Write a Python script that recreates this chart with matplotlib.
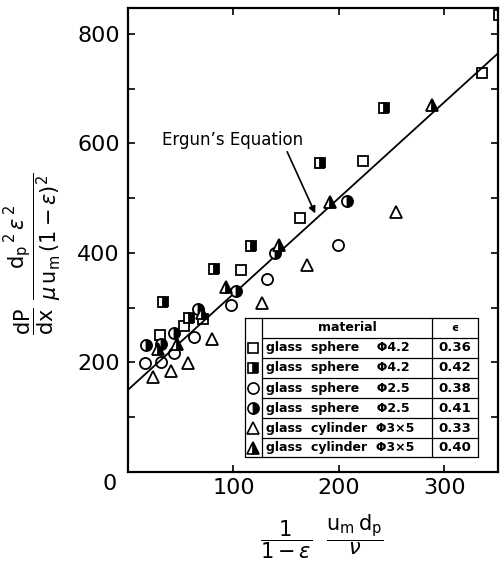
import matplotlib
matplotlib.use("Agg")
import matplotlib.pyplot as plt
import numpy as np

plt.rcParams['font.family'] = ['DejaVu Sans']
plt.rcParams['mathtext.fontset'] = 'dejavusans'

# ---- data ----
sq_open_x = [30, 53, 71, 107, 163, 223, 336, 352]
sq_open_y = [250, 267, 279, 368, 463, 567, 728, 835]

sq_half_x = [33, 58, 82, 117, 182, 243]
sq_half_y = [310, 281, 371, 413, 564, 665]

ci_open_x = [16.5, 31, 44, 62.5, 98, 132, 199]
ci_open_y = [199, 200, 217, 246, 305, 352, 415]

ci_half_x = [17, 31, 44, 66, 102, 139, 208]
ci_half_y = [231, 234, 254, 298, 331, 399, 495]

tr_open_x = [24, 40.5, 57, 80, 127, 169.5, 254]
tr_open_y = [174, 185, 199, 243, 308, 377, 474]

tr_fill_x = [28, 46.5, 70, 93, 143, 192, 288]
tr_fill_y = [224, 233, 290, 337, 415, 493, 670]

materials = ["glass  sphere    Φ4.2", "glass  sphere    Φ4.2",
             "glass  sphere    Φ2.5", "glass  sphere    Φ2.5",
             "glass  cylinder  Φ3×5", "glass  cylinder  Φ3×5"]
eps_values = ["0.36", "0.42", "0.38", "0.41", "0.33", "0.40"]

ergun_intercept = 150
ergun_slope = 1.75

x_ticks = [0, 100, 200, 300]
x_ticklabels = ['', '100', '200', '300']
y_ticks = [200, 400, 600, 800]
y_minor = [100, 300, 500, 700]

# ---- figure ----
fig = plt.figure(figsize=(5.02, 5.68), dpi=100)
ax = fig.add_axes([128/502, 1-472/568, 370/502, 464/568])
ax.set_xlim(0, 351)
ax.set_ylim(0, 847)

xl = np.array([0, 351])
ax.plot(xl, ergun_intercept + ergun_slope*xl, color='black', lw=1.3, zorder=2)

styles = [
    dict(marker='s', fillstyle='none', ms=7.5),
    dict(marker='s', fillstyle='right', ms=7.5),
    dict(marker='o', fillstyle='none', ms=8),
    dict(marker='o', fillstyle='right', ms=8),
    dict(marker='^', fillstyle='none', ms=9),
    dict(marker='^', fillstyle='right', ms=9),
]
series = [(sq_open_x, sq_open_y), (sq_half_x, sq_half_y), (ci_open_x, ci_open_y),
          (ci_half_x, ci_half_y), (tr_open_x, tr_open_y), (tr_fill_x, tr_fill_y)]
for (xs, ys), st in zip(series, styles):
    ax.plot(xs, ys, ls='none', color='black', mec='black', mfc='black',
            markerfacecoloralt='white', mew=1.3, zorder=3, **st)

for s in ax.spines.values():
    s.set_linewidth(1.6)
ax.set_xticks(x_ticks)
ax.set_xticklabels(x_ticklabels)
ax.set_yticks(y_ticks)
ax.set_yticks(y_minor, minor=True)
ax.tick_params(which='both', direction='in', length=5, width=1.2,
               top=True, right=True, labelsize=16)
ax.tick_params(axis='x', pad=4)
ax.tick_params(axis='y', pad=6)
fig.text(110/502, 1-484/568, '0', fontsize=16, ha='center', va='center')

# annotation
ax.annotate("Ergun’s Equation", xy=(177.6, 472), xytext=(32, 606),
            fontsize=12, ha='left', va='center',
            arrowprops=dict(arrowstyle='-|>', color='black', lw=1.2,
                            shrinkA=0, shrinkB=0, mutation_scale=10,
                            relpos=(0.88, 0.0)))

# table legend (axes coordinates)
T = ax.transAxes
xL, xS, xE, xR = 0.316, 0.362, 0.822, 0.946
yT = 0.332
rows = [0.289, 0.246, 0.203, 0.159, 0.116, 0.073, 0.032]
lw_t = 0.9
ax.add_patch(plt.Rectangle((xL, rows[-1]), xR-xL, yT-rows[-1], transform=T,
                           facecolor='white', edgecolor='none', zorder=4))
ax.plot([xL, xR, xR, xL, xL], [yT, yT, rows[-1], rows[-1], yT], transform=T,
        color='black', lw=lw_t, clip_on=False, zorder=5)
ax.plot([xS, xS], [yT, rows[-1]], transform=T, color='black', lw=lw_t, zorder=5)
ax.plot([xE, xE], [yT, rows[-1]], transform=T, color='black', lw=lw_t, zorder=5)
for r in rows[:-1]:
    ax.plot([xS, xR], [r, r], transform=T, color='black', lw=lw_t, zorder=5)
ax.text((xS+xE)/2, (yT+rows[0])/2, 'material', transform=T, ha='center',
        va='center', fontsize=9, fontweight='bold', zorder=6)
ax.text((xE+xR)/2, (yT+rows[0])/2, 'ϵ', transform=T, ha='center',
        va='center', fontsize=8, fontweight='bold', zorder=6)
for i in range(6):
    yc = (rows[i] + rows[i+1]) / 2
    ax.plot([(xL+xS)/2], [yc], transform=T, ls='none', color='black',
            mec='black', mfc='black', markerfacecoloralt='white', mew=1.2,
            zorder=6, **styles[i])
    ax.text(xS+0.012, yc, materials[i], transform=T, ha='left', va='center',
            fontsize=9, fontweight='bold', zorder=6)
    ax.text((xE+xR)/2, yc, eps_values[i], transform=T, ha='center',
            va='center', fontsize=9.5, fontweight='bold', zorder=6)

# axis labels
fig.text(33/502, 1-254/568,
         r'$\dfrac{\mathrm{dP}}{\mathrm{dx}}\ \dfrac{\mathrm{d_p}^{\,2}\,\epsilon^{\,2}}{\mu\,\mathrm{u_m}\,(1-\epsilon)^{2}}$',
         rotation=90, fontsize=15, ha='center', va='center')
fig.text(322/502, 1-537/568,
         r'$\dfrac{1}{1-\epsilon}\ \ \dfrac{\mathrm{u_m\,d_p}}{\nu}$',
         fontsize=15, ha='center', va='center')

fig.savefig('out.png', dpi=100)
